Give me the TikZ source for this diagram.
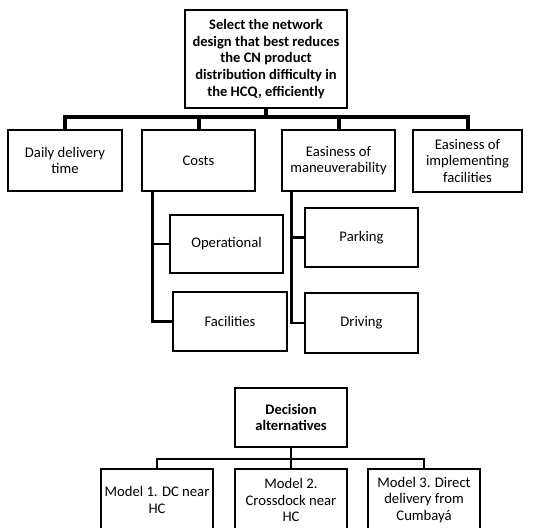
\documentclass[tikz,border=0pt]{standalone}
\usepackage{fontspec}
\setmainfont{Carlito}
\usepackage{tikz}

\begin{document}
\begin{tikzpicture}[x=0.75pt,y=0.75pt,yscale=-1,xscale=1,
  box/.style={draw,line width=2.2pt,rectangle,align=center,inner sep=0.75pt,
    font=\fontsize{11}{12.5}\selectfont},
  link/.style={line width=2.2pt}]
\useasboundingbox (0,0) rectangle (541,527);
\clip (0,0) rectangle (541,527);

% Text Node
\node [box,font=\fontsize{10.9}{12.5}\selectfont\bfseries,minimum width=121.5pt,minimum height=73.5pt] (goal) at (266,59) {Select the network\\design that best reduces\\the CN product\\distribution difficulty in\\the HCQ, efficiently};
% Text Node
\node [box,minimum width=85.5pt,minimum height=45.75pt] (daily) at (65,160.5) {Daily delivery\\time};
% Text Node
\node [box,minimum width=84.75pt,minimum height=45.75pt] (costs) at (198.5,160.5) {Costs};
% Text Node
\node [box,minimum width=84.75pt,minimum height=45.75pt] (maneu) at (338.5,160.5) {Easiness of\\maneuverability};
% Text Node
\node [box,minimum width=81.75pt,minimum height=46.5pt] (implem) at (467.5,161) {Easiness of\\implementing\\facilities};
% Text Node
\node [box,minimum width=84.75pt,minimum height=43.5pt] (operat) at (226.5,244) {Operational};
% Text Node
\node [box,minimum width=85.5pt,minimum height=44.25pt] (facil) at (230,321.5) {Facilities};
% Text Node
\node [box,minimum width=84.75pt,minimum height=44.25pt] (parking) at (361.5,237.5) {Parking};
% Text Node
\node [box,minimum width=84.75pt,minimum height=45pt] (driving) at (361.5,323) {Driving};
% Text Node
\node [box,font=\fontsize{10.9}{12.5}\selectfont\bfseries,minimum width=84pt,minimum height=44.25pt] (decis) at (291,417.5) {Decision\\alternatives};
% Text Node
\node [box,minimum width=84pt,minimum height=46.5pt] (model1) at (157,500) {Model 1. DC near\\HC};
% Text Node
\node [box,minimum width=84pt,minimum height=46.5pt] (model2) at (291,500) {Model 2.\\Crossdock near\\HC};
% Text Node
\node [box,minimum width=84pt,minimum height=46.5pt] (model3) at (424,500) {Model 3. Direct\\delivery from\\Cumbayá};

\coordinate (topbus) at (266,117);
\coordinate (altbus) at (291,459);

%Straight Lines
\draw [link,line width=3pt] (goal.south) -- (topbus);
\draw [link,line width=3pt] (daily.north) |- (topbus);
\draw [link,line width=3pt] (costs.north) |- (topbus);
\draw [link,line width=3pt] (maneu.north) |- (topbus);
\draw [link,line width=3pt] (implem.north) |- (topbus);
%Straight Lines
\draw [link] (costs.south west) ++(12,0) |- (operat.west);
\draw [link] (costs.south west) ++(12,0) |- (facil.west);
%Straight Lines
\draw [link] (maneu.south west) ++(11,0) |- (parking.west);
\draw [link] (maneu.south west) ++(11,0) |- (driving.west);
%Straight Lines
\draw [link] (decis.south) -- (altbus);
\draw [link] (model1.north) |- (altbus);
\draw [link] (model2.north) |- (altbus);
\draw [link] (model3.north) |- (altbus);
\end{tikzpicture}
\end{document}
